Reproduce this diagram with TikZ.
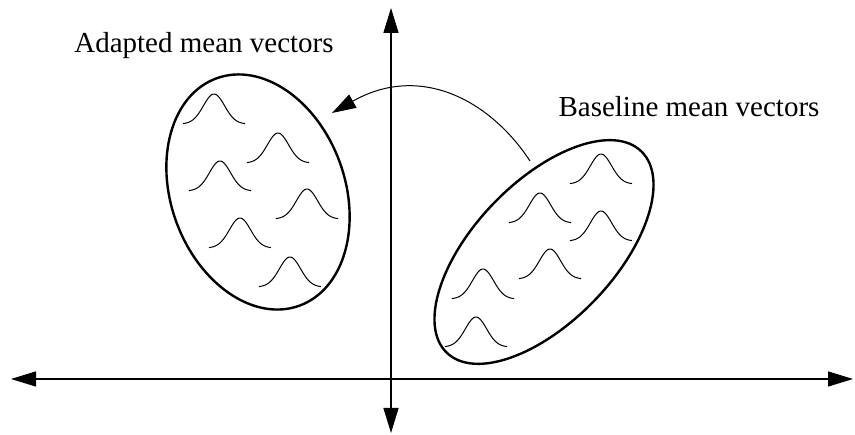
\documentclass[tikz,border=0pt]{standalone}
\usepackage{fontspec}
\setmainfont{Liberation Serif}
\usepackage{tikz}
\usetikzlibrary{arrows.meta,shapes.geometric}

\begin{document}
\begin{tikzpicture}[
      x=1pt, y=1pt,
      every node/.style={font=\fontsize{29}{34}\selectfont},
      axis/.style={line width=1.3pt, {Triangle[length=25pt,width=15pt]}-{Triangle[length=25pt,width=15pt]}},
      cluster/.style={draw, ellipse, line width=2.4pt, inner sep=0pt},
      bump/.pic={\draw[line width=1pt] plot[domain=-31:31, samples=40] (\x, {30*exp(-(\x/15)^2)});},
      move/.style={line width=1pt, -{Triangle[length=24pt,width=15pt]}}
    ]
      \useasboundingbox (0,0) rectangle (855,435);
      % axes
      \coordinate (xl) at (11,56);
      \coordinate (xr) at (853,56);
      \coordinate (yb) at (391,2);
      \coordinate (yt) at (391,427);
      \draw[axis] (xl) -- (xr);
      \draw[axis] (yb) -- (yt);
      % the two sets of means
      \node[cluster, minimum width=174pt, minimum height=242pt, rotate=20] (adapted) at (258,243) {};
      \node[cluster, minimum width=280pt, minimum height=140pt, rotate=46] (baseline) at (544,183) {};
      \foreach \px/\py in {214/311, 278/272, 220/244, 307/216, 240/187, 290/148}
        \pic at (\px,\py) {bump};
      \foreach \px/\py in {601/251, 540/212, 601/194, 550/156, 483/136, 476/88}
        \pic at (\px,\py) {bump};
      \node[anchor=base, inner sep=0pt] (adaptedlbl) at (204,382) {Adapted mean vectors};
      \node[anchor=base, inner sep=0pt] (baselinelbl) at (689,318) {Baseline mean vectors};
      % adaptation
      \coordinate (from) at (530,274);
      \coordinate (to) at (332,322);
      \draw[move] (from) .. controls (490,335) and (420,372) .. (to);
    \end{tikzpicture}
\end{document}
